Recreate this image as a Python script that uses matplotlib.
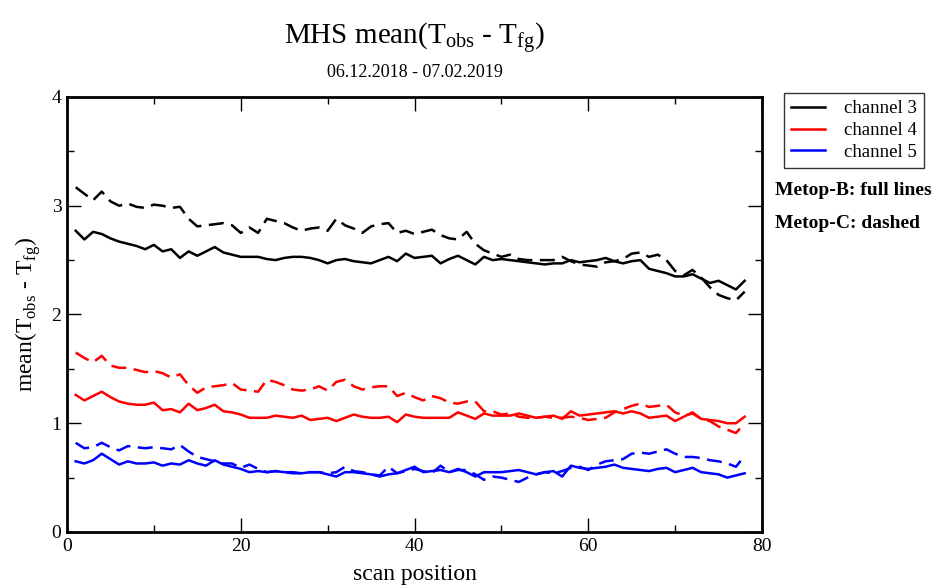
import numpy as np
import matplotlib
matplotlib.use('Agg')
import matplotlib.pyplot as plt
from matplotlib.ticker import MultipleLocator

plt.rcParams['font.family'] = 'Liberation Serif'
plt.rcParams['mathtext.fontset'] = 'custom'
plt.rcParams['mathtext.rm'] = 'Liberation Serif'

# scan positions
scan_pos = np.arange(1, 79)

# Metop-B (full lines)
metop_b_ch3 = [2.77, 2.69, 2.76, 2.74, 2.70, 2.67, 2.65, 2.63, 2.60, 2.64,
               2.58, 2.60, 2.52, 2.58, 2.54, 2.58, 2.62, 2.57, 2.55, 2.53,
               2.53, 2.53, 2.51, 2.50, 2.52, 2.53, 2.53, 2.52, 2.50, 2.47,
               2.50, 2.51, 2.49, 2.48, 2.47, 2.50, 2.53, 2.49, 2.56, 2.52,
               2.53, 2.54, 2.47, 2.51, 2.54, 2.50, 2.46, 2.53, 2.50, 2.51,
               2.50, 2.49, 2.48, 2.47, 2.46, 2.47, 2.47, 2.50, 2.48, 2.49,
               2.50, 2.52, 2.49, 2.47, 2.49, 2.50, 2.42, 2.40, 2.38, 2.35,
               2.35, 2.37, 2.33, 2.29, 2.31, 2.27, 2.23, 2.31]
metop_b_ch4 = [1.26, 1.21, 1.25, 1.29, 1.24, 1.20, 1.18, 1.17, 1.17, 1.19,
               1.12, 1.13, 1.10, 1.18, 1.12, 1.14, 1.17, 1.11, 1.10, 1.08,
               1.05, 1.05, 1.05, 1.07, 1.06, 1.05, 1.07, 1.03, 1.04, 1.05,
               1.02, 1.05, 1.08, 1.06, 1.05, 1.05, 1.06, 1.01, 1.08, 1.06,
               1.05, 1.05, 1.05, 1.05, 1.10, 1.07, 1.04, 1.09, 1.07, 1.07,
               1.07, 1.09, 1.07, 1.05, 1.06, 1.07, 1.04, 1.11, 1.07, 1.08,
               1.09, 1.10, 1.11, 1.09, 1.11, 1.09, 1.05, 1.06, 1.07, 1.02,
               1.06, 1.10, 1.04, 1.03, 1.02, 1.00, 1.00, 1.06]
metop_b_ch5 = [0.65, 0.63, 0.66, 0.72, 0.67, 0.62, 0.65, 0.63, 0.63, 0.64,
               0.61, 0.63, 0.62, 0.66, 0.63, 0.61, 0.66, 0.62, 0.60, 0.58,
               0.55, 0.56, 0.55, 0.56, 0.55, 0.55, 0.54, 0.55, 0.55, 0.53,
               0.51, 0.55, 0.55, 0.54, 0.53, 0.51, 0.53, 0.54, 0.57, 0.60,
               0.55, 0.56, 0.57, 0.55, 0.58, 0.55, 0.51, 0.55, 0.55, 0.55,
               0.56, 0.57, 0.55, 0.53, 0.55, 0.56, 0.51, 0.61, 0.59, 0.58,
               0.59, 0.60, 0.62, 0.59, 0.58, 0.57, 0.56, 0.58, 0.59, 0.55,
               0.57, 0.59, 0.55, 0.54, 0.53, 0.50, 0.52, 0.54]

# Metop-C (dashed)
metop_c_ch3 = [3.17, 3.11, 3.05, 3.13, 3.04, 3.00, 3.02, 2.99, 2.98, 3.01,
               3.00, 2.98, 2.99, 2.88, 2.81, 2.82, 2.83, 2.84, 2.82, 2.75,
               2.80, 2.75, 2.88, 2.86, 2.84, 2.80, 2.77, 2.79, 2.80, 2.77,
               2.88, 2.82, 2.79, 2.75, 2.81, 2.83, 2.84, 2.75, 2.77, 2.74,
               2.76, 2.78, 2.73, 2.70, 2.69, 2.76, 2.65, 2.59, 2.56, 2.53,
               2.55, 2.51, 2.50, 2.50, 2.50, 2.50, 2.53, 2.49, 2.46, 2.45,
               2.44, 2.48, 2.49, 2.51, 2.56, 2.57, 2.53, 2.55, 2.50, 2.40,
               2.36, 2.41, 2.34, 2.25, 2.18, 2.15, 2.13, 2.21]
metop_c_ch4 = [1.65, 1.60, 1.56, 1.62, 1.53, 1.51, 1.51, 1.49, 1.47, 1.48,
               1.46, 1.42, 1.45, 1.35, 1.28, 1.33, 1.34, 1.35, 1.37, 1.31,
               1.30, 1.29, 1.40, 1.38, 1.35, 1.31, 1.30, 1.31, 1.34, 1.30,
               1.38, 1.40, 1.34, 1.31, 1.33, 1.34, 1.34, 1.25, 1.28, 1.24,
               1.21, 1.25, 1.23, 1.19, 1.18, 1.20, 1.20, 1.11, 1.11, 1.08,
               1.09, 1.06, 1.05, 1.05, 1.06, 1.05, 1.05, 1.06, 1.05, 1.03,
               1.04, 1.05, 1.10, 1.13, 1.16, 1.18, 1.15, 1.16, 1.17, 1.10,
               1.07, 1.09, 1.04, 1.02, 0.97, 0.94, 0.91, 1.00]
metop_c_ch5 = [0.82, 0.77, 0.78, 0.82, 0.78, 0.75, 0.79, 0.78, 0.77, 0.78,
               0.77, 0.76, 0.80, 0.74, 0.69, 0.67, 0.65, 0.63, 0.63, 0.59,
               0.62, 0.58, 0.55, 0.56, 0.55, 0.54, 0.54, 0.55, 0.55, 0.54,
               0.55, 0.60, 0.56, 0.55, 0.53, 0.52, 0.60, 0.54, 0.56, 0.58,
               0.56, 0.54, 0.61, 0.55, 0.57, 0.57, 0.53, 0.48, 0.51, 0.50,
               0.48, 0.46, 0.50, 0.53, 0.55, 0.54, 0.56, 0.59, 0.60, 0.57,
               0.62, 0.65, 0.66, 0.67, 0.72, 0.73, 0.72, 0.74, 0.76, 0.72,
               0.69, 0.69, 0.68, 0.66, 0.65, 0.63, 0.60, 0.70]

channels = ['channel 3', 'channel 4', 'channel 5']
colors = ['black', 'red', 'blue']

fig = plt.figure(figsize=(9.41, 5.87), dpi=100)
ax = fig.add_axes([0.0712, 0.0937, 0.7386, 0.7411])

lw = 1.8
handles = []
for ch, col, yb, yc in zip(channels, colors,
                           [metop_b_ch3, metop_b_ch4, metop_b_ch5],
                           [metop_c_ch3, metop_c_ch4, metop_c_ch5]):
    h, = ax.plot(scan_pos, yb, color=col, lw=lw, label=ch)
    ax.plot(scan_pos, yc, color=col, lw=lw, linestyle=(0, (6, 3)))
    handles.append(h)

ax.set_xlim(0, 80)
ax.set_ylim(0, 4)
ax.xaxis.set_major_locator(MultipleLocator(20))
ax.xaxis.set_minor_locator(MultipleLocator(10))
ax.yaxis.set_major_locator(MultipleLocator(1))
ax.yaxis.set_minor_locator(MultipleLocator(0.5))
ax.tick_params(which='both', direction='in', top=True, right=True,
               labelsize=14, width=1, pad=4)
ax.tick_params(which='major', length=10)
ax.tick_params(which='minor', length=5)
for sp in ax.spines.values():
    sp.set_linewidth(2)

ax.set_xlabel('scan position', fontsize=17, labelpad=7)
ax.set_ylabel(r'mean(T$_{\rm obs}$ - T$_{\rm fg}$)', fontsize=17, labelpad=6)

fig.text(0.441, 0.935, r'MHS mean(T$_{\rm obs}$ - T$_{\rm fg}$)',
         ha='center', va='center', fontsize=21)
fig.text(0.441, 0.877, '06.12.2018 - 07.02.2019',
         ha='center', va='center', fontsize=13)

leg = ax.legend(handles=handles, loc='upper left',
                bbox_to_anchor=(0.833, 0.842), bbox_transform=fig.transFigure,
                fontsize=13.5, frameon=True, fancybox=False,
                handlelength=1.8, handletextpad=1.0, borderpad=0.4,
                labelspacing=0.25, borderaxespad=0)
leg.get_frame().set_edgecolor('black')
leg.get_frame().set_linewidth(1)

fig.text(0.824, 0.676, 'Metop-B: full lines', fontsize=14,
         fontweight='bold', va='center')
fig.text(0.824, 0.619, 'Metop-C: dashed', fontsize=14,
         fontweight='bold', va='center')

fig.savefig('out.png', dpi=100)
